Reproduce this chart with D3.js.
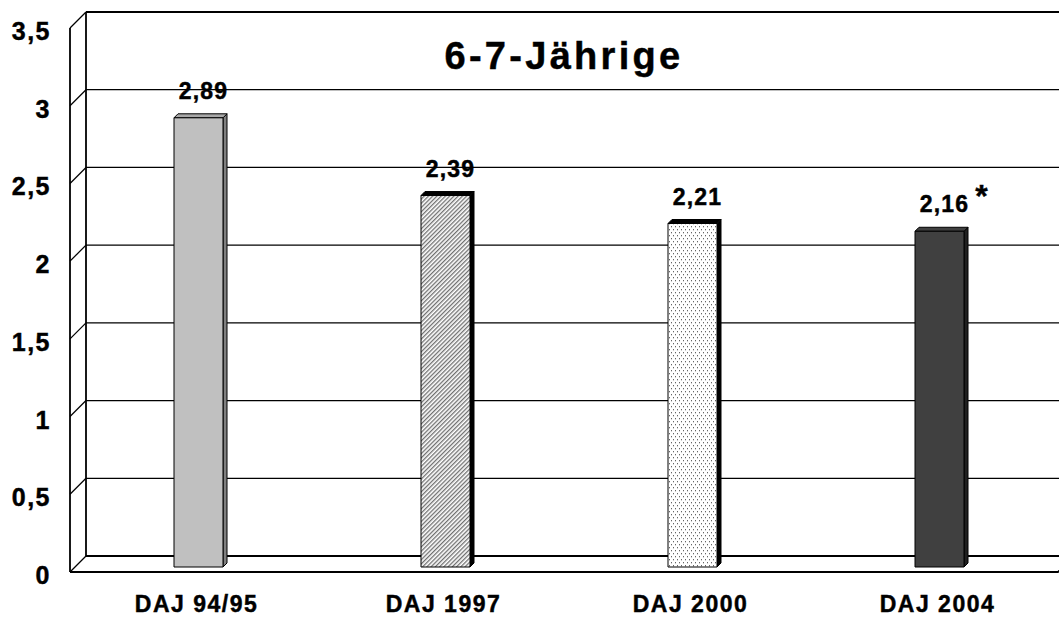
<!DOCTYPE html>
<html>
<head>
<meta charset="utf-8">
<script src="https://cdn.jsdelivr.net/npm/d3@7/dist/d3.min.js"></script>
<style>
  html, body { margin: 0; padding: 0; background: #fff; }
  svg { display: block; }
  text { font-family: "Liberation Sans", Arial, sans-serif; font-weight: bold; fill: #000; stroke: #000; stroke-width: 0.45px; }
</style>
</head>
<body>
<script>
const title = "6-7-Jährige";
const categories = ["DAJ 94/95", "DAJ 1997", "DAJ 2000", "DAJ 2004"];
const values = [2.89, 2.39, 2.21, 2.16];
const valueLabels = ["2,89", "2,39", "2,21", "2,16"];
const valueMarks = ["", "", "", "*"];
const yTicks = [0, 0.5, 1, 1.5, 2, 2.5, 3, 3.5];
const yTickLabels = ["0", "0,5", "1", "1,5", "2", "2,5", "3", "3,5"];
const barFills = ["#c0c0c0", "url(#hatch)", "url(#dots)", "#404040"];
const barSides = ["#808080", "#000000", "#000000", "#202020"];
const barTops = ["#a8a8a8", "#000000", "#000000", "#404040"];

const W = 1059, H = 617;
const depth = 16;          // 3D offset of back wall
const barShift = 11;       // bar front face offset from back wall
const barDepth = 4;
const barW = 49;

const svg = d3.select("body").append("svg").attr("width", W).attr("height", H);
const defs = svg.append("defs");

const hatch = defs.append("pattern").attr("id", "hatch").attr("patternUnits", "userSpaceOnUse")
  .attr("width", 3).attr("height", 3).attr("patternTransform", "rotate(45)");
hatch.append("rect").attr("width", 3).attr("height", 3).attr("fill", "#ffffff").attr("stroke", "none");
hatch.append("rect").attr("width", 1.3).attr("height", 3).attr("fill", "#707070").attr("stroke", "none");

const dots = defs.append("pattern").attr("id", "dots").attr("patternUnits", "userSpaceOnUse")
  .attr("width", 4).attr("height", 6);
dots.append("rect").attr("width", 4).attr("height", 6).attr("fill", "#ffffff").attr("stroke", "none");
dots.append("rect").attr("x", 1).attr("y", 1).attr("width", 1).attr("height", 1.3).attr("fill", "#666666").attr("stroke", "none");
dots.append("rect").attr("x", 3).attr("y", 4).attr("width", 1).attr("height", 1.3).attr("fill", "#666666").attr("stroke", "none");

// scales
const x = d3.scaleBand().domain(categories).range([70, 1058]);
const y = d3.scaleLinear().domain([0, 3.5]).range([556, 12]); // back wall

const frontX = 70, backX = frontX + depth;

// gridlines on back wall and left side wall
const grid = svg.append("g").attr("stroke", "#000").attr("fill", "none");
yTicks.forEach((t, i) => {
  const yb = y(t);
  const top = i === yTicks.length - 1;
  grid.append("line").attr("x1", backX).attr("x2", W + 5).attr("y1", yb).attr("y2", yb)
    .attr("stroke-width", top ? 2 : (t === 0 ? 1.8 : 1.3));
  grid.append("line").attr("x1", frontX).attr("y1", yb + depth).attr("x2", backX).attr("y2", yb)
    .attr("stroke-width", 1.3);
});
grid.append("line").attr("x1", backX).attr("x2", backX).attr("y1", y(3.5)).attr("y2", y(0)).attr("stroke-width", 1.8);
grid.append("line").attr("x1", frontX).attr("x2", frontX).attr("y1", y(3.5) + depth).attr("y2", y(0) + depth).attr("stroke-width", 1.8);
const floorEnd = x.range()[1];
grid.append("path")
  .attr("d", `M${frontX},${y(0) + depth}L${floorEnd},${y(0) + depth}L${floorEnd + depth},${y(0)}`)
  .attr("stroke-width", 1.8);

// bars
const bars = svg.append("g");
categories.forEach((c, i) => {
  const cx = x(c) + x.bandwidth() / 2 + depth - barShift;
  const xl = cx - barW / 2, xr = cx + barW / 2;
  const yt = y(values[i]) + barShift, yb = y(0) + barShift;
  const g = bars.append("g").attr("stroke", "#000").attr("stroke-width", 1).attr("stroke-linejoin", "round");
  g.append("polygon")
    .attr("points", [[xr, yt], [xr + barDepth, yt - barDepth], [xr + barDepth, yb - barDepth], [xr, yb]].join(" "))
    .attr("fill", barSides[i]);
  g.append("polygon")
    .attr("points", [[xl, yt], [xl + barDepth, yt - barDepth], [xr + barDepth, yt - barDepth], [xr, yt]].join(" "))
    .attr("fill", barTops[i]);
  g.append("rect").attr("x", xl).attr("y", yt).attr("width", barW).attr("height", yb - yt)
    .attr("fill", barFills[i]);

  svg.append("text").attr("x", cx + 5).attr("y", yt - 19)
    .attr("text-anchor", "middle").attr("font-size", 23).attr("letter-spacing", 1.2)
    .text(valueLabels[i]);
  if (valueMarks[i]) {
    svg.append("text").attr("x", cx + 42).attr("y", yt - 24)
      .attr("text-anchor", "middle").attr("font-size", 32)
      .text(valueMarks[i]);
  }
  svg.append("text").attr("x", x(c) + x.bandwidth() / 2 + 3).attr("y", 612)
    .attr("text-anchor", "middle").attr("font-size", 23).attr("letter-spacing", 1.5)
    .text(c);
});

// y tick labels
yTicks.forEach((t, i) => {
  svg.append("text").attr("x", 51).attr("y", y(t) + depth + 12)
    .attr("text-anchor", "end").attr("font-size", 25).attr("letter-spacing", 1.5)
    .text(yTickLabels[i]);
});

// title
svg.append("text").attr("x", 564).attr("y", 69)
  .attr("text-anchor", "middle").attr("font-size", 38).attr("letter-spacing", 3.3)
  .text(title);
</script>
</body>
</html>
